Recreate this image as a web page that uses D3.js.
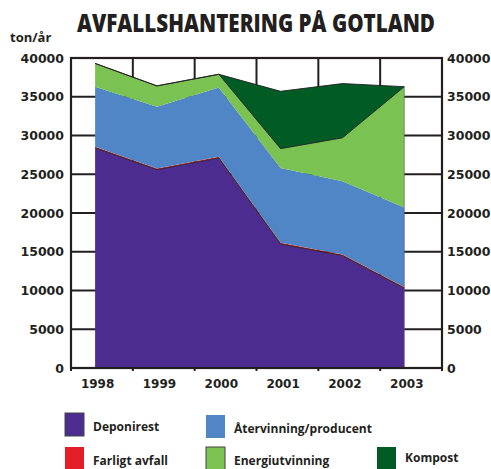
<!DOCTYPE html>
<html>
<head>
<meta charset="utf-8">
<script src="https://cdn.jsdelivr.net/npm/d3@7"></script>
<style>
  body { margin: 0; background: #fff; }
  svg { display: block; }
</style>
</head>
<body>
<script>
// data (ton/år)
var years = [1998, 1999, 2000, 2001, 2002, 2003];
var deponirest = [28400, 25600, 27100, 16000, 14500, 10300];
var farligtAvfall = [150, 150, 150, 150, 150, 150];
var atervinning = [7750, 7950, 8950, 9650, 9450, 10250];
var energiutvinning = [3000, 2700, 1700, 2500, 5600, 15600];
var kompost = [0, 0, 0, 7400, 7000, 0];
var yTicks = [0, 5000, 10000, 15000, 20000, 25000, 30000, 35000, 40000];

var seriesNames = ["Deponirest", "Farligt avfall", "Återvinning/producent", "Energiutvinning", "Kompost"];
var seriesColors = ["#4c2d8f", "#e31e26", "#5086c6", "#7ac352", "#005b25"];

var W = 491, H = 469;
var ink = "#231f20";
var plot = { left: 71, right: 442, top: 58, bottom: 368 };

var rows = years.map(function(y, i) {
  return {
    year: y,
    "Deponirest": deponirest[i],
    "Farligt avfall": farligtAvfall[i],
    "Återvinning/producent": atervinning[i],
    "Energiutvinning": energiutvinning[i],
    "Kompost": kompost[i],
  };
});

var svg = d3.select("body").append("svg").attr("width", W).attr("height", H);

// grid scale: 6 year cells, data points sit a bit left of cell centre
var xCell = d3.scaleLinear().domain([0, years.length]).range([plot.left, plot.right]);
var x = function(year) { return xCell(years.indexOf(year) + 0.39); };
var y = d3.scaleLinear().domain([0, 40000]).range([plot.bottom, plot.top]);

// title
svg.append("text")
  .attr("x", 77).attr("y", 32)
  .attr("textLength", 358).attr("lengthAdjust", "spacingAndGlyphs")
  .style("font-family", "'Open Sans', Lato, sans-serif")
  .style("font-weight", 800).style("font-size", "24px")
  .attr("fill", ink)
  .text("AVFALLSHANTERING PÅ GOTLAND");

svg.append("text")
  .attr("x", 10).attr("y", 42)
  .style("font-family", "'Open Sans', sans-serif")
  .style("font-weight", 700).style("font-size", "13px")
  .attr("fill", ink)
  .text("ton/år");

// gridlines (behind the areas)
var grid = svg.append("g").attr("stroke", ink).attr("stroke-width", 2);
grid.selectAll("line.h").data(yTicks).enter().append("line")
  .attr("class", "h")
  .attr("x1", plot.left).attr("x2", plot.right)
  .attr("y1", function(d) { return y(d); }).attr("y2", function(d) { return y(d); });
grid.selectAll("line.v").data(d3.range(years.length + 1)).enter().append("line")
  .attr("class", "v")
  .attr("x1", function(d) { return xCell(d); }).attr("x2", function(d) { return xCell(d); })
  .attr("y1", plot.top).attr("y2", plot.bottom + 3);

// stacked areas
var stack = d3.stack().keys(seriesNames);
var layers = stack(rows);
var area = d3.area()
  .x(function(d) { return x(d.data.year); })
  .y0(function(d) { return y(d[0]); })
  .y1(function(d) { return y(d[1]); });
var topLine = d3.line()
  .x(function(d) { return x(d.data.year); })
  .y(function(d) { return y(d[1]); });

svg.append("g").selectAll("path").data(layers).enter().append("path")
  .attr("fill", function(d, i) { return seriesColors[i]; })
  .attr("d", area);

// dark outlines on the top of some layers
var outlined = [0, 3, 4];
svg.append("g").selectAll("path").data(outlined.map(function(i) { return layers[i]; }))
  .enter().append("path")
  .attr("fill", "none").attr("stroke", ink).attr("stroke-width", 0.9)
  .attr("d", topLine);

// right edge of the stack
var lastYear = years[years.length - 1];
var last = layers[layers.length - 1][years.length - 1];
svg.append("line")
  .attr("x1", x(lastYear)).attr("x2", x(lastYear))
  .attr("y1", y(last[1])).attr("y2", plot.bottom)
  .attr("stroke", "#555").attr("stroke-width", 0.6);

// frame
svg.append("rect")
  .attr("x", plot.left).attr("y", plot.top)
  .attr("width", plot.right - plot.left).attr("height", plot.bottom - plot.top)
  .attr("fill", "none").attr("stroke", ink).attr("stroke-width", 2.2);

// tick labels
var tickFont = function(sel) {
  sel.style("font-family", "'DejaVu Sans', Verdana, sans-serif")
    .style("font-weight", 700).style("font-size", "12.5px")
    .attr("fill", ink);
};
svg.append("g").selectAll("text").data(yTicks).enter().append("text")
  .attr("x", 64).attr("y", function(d) { return y(d) + 4.5; })
  .attr("text-anchor", "end").call(tickFont)
  .text(function(d) { return d; });
svg.append("g").selectAll("text").data(yTicks).enter().append("text")
  .attr("x", 447).attr("y", function(d) { return y(d) + 4.5; })
  .attr("text-anchor", "start").call(tickFont)
  .text(function(d) { return d; });
svg.append("g").selectAll("text").data(years).enter().append("text")
  .attr("x", function(d) { return x(d) + 2.5; }).attr("y", 388)
  .attr("text-anchor", "middle").call(tickFont)
  .style("font-size", "12px")
  .text(function(d) { return d; });

// legend
var legendPos = [[65, 413], [65, 447], [206, 415], [206, 447], [377, 447]];
var legend = svg.append("g").selectAll("g").data(seriesNames).enter().append("g")
  .attr("transform", function(d, i) { return "translate(" + legendPos[i][0] + "," + legendPos[i][1] + ")"; });
legend.append("rect")
  .attr("width", 19).attr("height", 23)
  .attr("fill", function(d, i) { return seriesColors[i]; })
  .attr("stroke", function(d, i) { return (i === 0 || i === 3) ? "#444" : "none"; })
  .attr("stroke-width", 1);
legend.append("text")
  .attr("x", 28).attr("y", function(d, i) { return i === 4 ? 15 : 18; })
  .style("font-family", "'Open Sans', sans-serif")
  .style("font-weight", 700).style("font-size", "12px")
  .attr("fill", ink)
  .text(function(d) { return d; });
</script>
</body>
</html>
